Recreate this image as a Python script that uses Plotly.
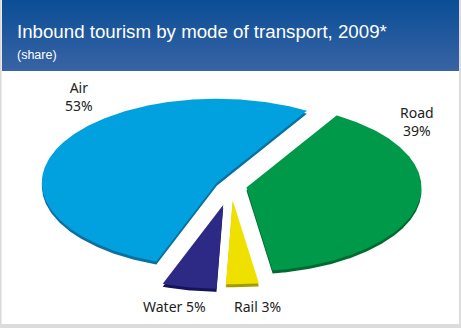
import numpy as np
import plotly.graph_objects as go

# ---- data ----
labels = ["Road", "Rail", "Water", "Air"]
shares = [39, 3, 5, 53]
label_text = ["Road<br>39%", "Rail 3%", "Water 5%", "Air<br>53%"]
colors = ["#00994a", "#efe000", "#2d2a86", "#00a1de"]
side_colors = ["#006a30", "#a29c00", "#16135a", "#0b6f9f"]
pulls = [0.09, 0.17, 0.23, 0.09]

title = "Inbound tourism by mode of transport, 2009*"
subtitle = "(share)"

# ---- geometry / style ----
W, H = 461, 328
cx, cy, rx, ry = 231, 186, 175, 84
start_deg = 31
depth = 3
label_pos = {"Road": (417, 121), "Rail": (257, 306), "Water": (174, 306), "Air": (79, 96)}

fig = go.Figure()

# header band with vertical gradient
fig.add_trace(go.Scatter(
    x=[2, 459, 459, 2, 2], y=[0, 0, 71, 71, 0], mode="lines",
    line=dict(width=0), fill="toself",
    fillgradient=dict(type="vertical", colorscale=[[0, "#3963a5"], [1, "#0a4e96"]]),
    hoverinfo="skip", showlegend=False))

total = sum(shares)
theta = start_deg
for lab, val, col, scol, p in zip(labels, shares, colors, side_colors, pulls):
    span = 360.0 * val / total
    t0, t1 = theta, theta + span
    tm = np.radians((t0 + t1) / 2)
    ox = p * rx * np.sin(tm)
    oy = -p * ry * np.cos(tm)
    ts = np.radians(np.linspace(t0, t1, max(8, int(span * 2))))
    xs = np.concatenate([[cx + ox], cx + ox + rx * np.sin(ts), [cx + ox]])
    ys = np.concatenate([[cy + oy], cy + oy - ry * np.cos(ts), [cy + oy]])
    # side (thickness)
    fig.add_trace(go.Scatter(x=xs, y=ys + depth, mode="lines", line=dict(width=0),
                             fill="toself", fillcolor=scol, hoverinfo="skip", showlegend=False))
    # top face
    fig.add_trace(go.Scatter(x=xs, y=ys, mode="lines", line=dict(width=0),
                             fill="toself", fillcolor=col, name=lab, showlegend=False))
    theta = t1

annotations = [
    dict(x=15, y=31, text=title, xanchor="left", yanchor="middle", showarrow=False,
         font=dict(family="Liberation Sans, Arial", size=18.7, color="white")),
    dict(x=15, y=55, text=subtitle, xanchor="left", yanchor="middle", showarrow=False,
         font=dict(family="Liberation Sans, Arial", size=12.5, color="white")),
]
for lab, txt in zip(labels, label_text):
    x, y = label_pos[lab]
    annotations.append(dict(x=x, y=y, text=txt, showarrow=False, xanchor="center",
                            yanchor="middle", align="center",
                            font=dict(family="Noto Sans", size=14, color="#222222")))

shapes = [
    dict(type="rect", xref="x", yref="y", x0=0, x1=1.5, y0=0, y1=H, fillcolor="#d9d9d9", line_width=0, layer="below"),
    dict(type="rect", xref="x", yref="y", x0=459, x1=W, y0=0, y1=H, fillcolor="#dcdcdc", line_width=0, layer="below"),
    dict(type="rect", xref="x", yref="y", x0=0, x1=W, y0=324, y1=H, fillcolor="#dcdcdc", line_width=0, layer="below"),
]

fig.update_layout(
    width=W, height=H, margin=dict(l=0, r=0, t=0, b=0),
    paper_bgcolor="white", plot_bgcolor="white",
    xaxis=dict(range=[0, W], visible=False, fixedrange=True),
    yaxis=dict(range=[H, 0], visible=False, fixedrange=True),
    annotations=annotations, shapes=shapes, showlegend=False,
)
fig.write_html("out.html", config={"displayModeBar": False})
